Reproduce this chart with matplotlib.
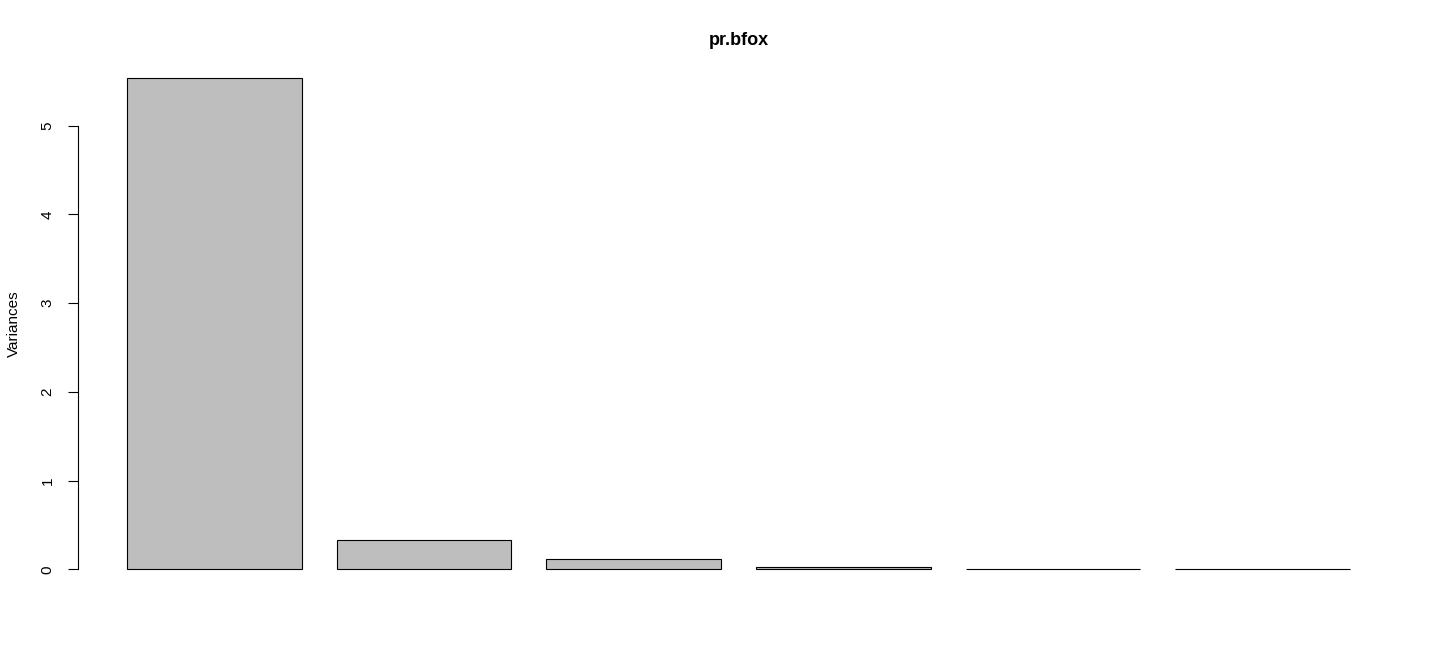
import numpy as np
import matplotlib.pyplot as plt

plt.rcParams['font.family'] = ['Liberation Sans', 'DejaVu Sans']

components = ['Comp.1', 'Comp.2', 'Comp.3', 'Comp.4', 'Comp.5', 'Comp.6']
variances = [5.54, 0.327, 0.113, 0.025, 0.008, 0.003]

# R barplot layout: width 1, space 0.2
lefts = 0.2 + 1.2 * np.arange(len(variances))
centers = lefts + 0.5

fig = plt.figure(figsize=(14.4, 6.72), dpi=100)
ax = fig.add_axes([0.0542, 0.1235, 0.9173, 0.7902])

ax.bar(centers, variances, width=1.0, color='#bebebe', edgecolor='black', linewidth=0.8)

xmin, xmax = lefts[0], lefts[-1] + 1
pad = 0.04 * (xmax - xmin)
ax.set_xlim(xmin - pad, xmax + pad)
ymax = max(variances)
ax.set_ylim(-0.04 * ymax, ymax * 1.04)

for s in ['top', 'right', 'bottom']:
    ax.spines[s].set_visible(False)
ax.spines['left'].set_bounds(0, 5)
ax.spines['left'].set_linewidth(0.8)

ax.set_xticks([])
ax.set_yticks(range(6))
ax.set_yticklabels([str(i) for i in range(6)], rotation=90, va='center', fontsize=11)
ax.tick_params(axis='y', length=7, width=0.8, pad=10)

ax.set_ylabel('Variances', fontsize=11, labelpad=14)
ax.set_title('pr.bfox', fontsize=13, fontweight='bold', pad=9)

fig.savefig('out.png', dpi=100)
